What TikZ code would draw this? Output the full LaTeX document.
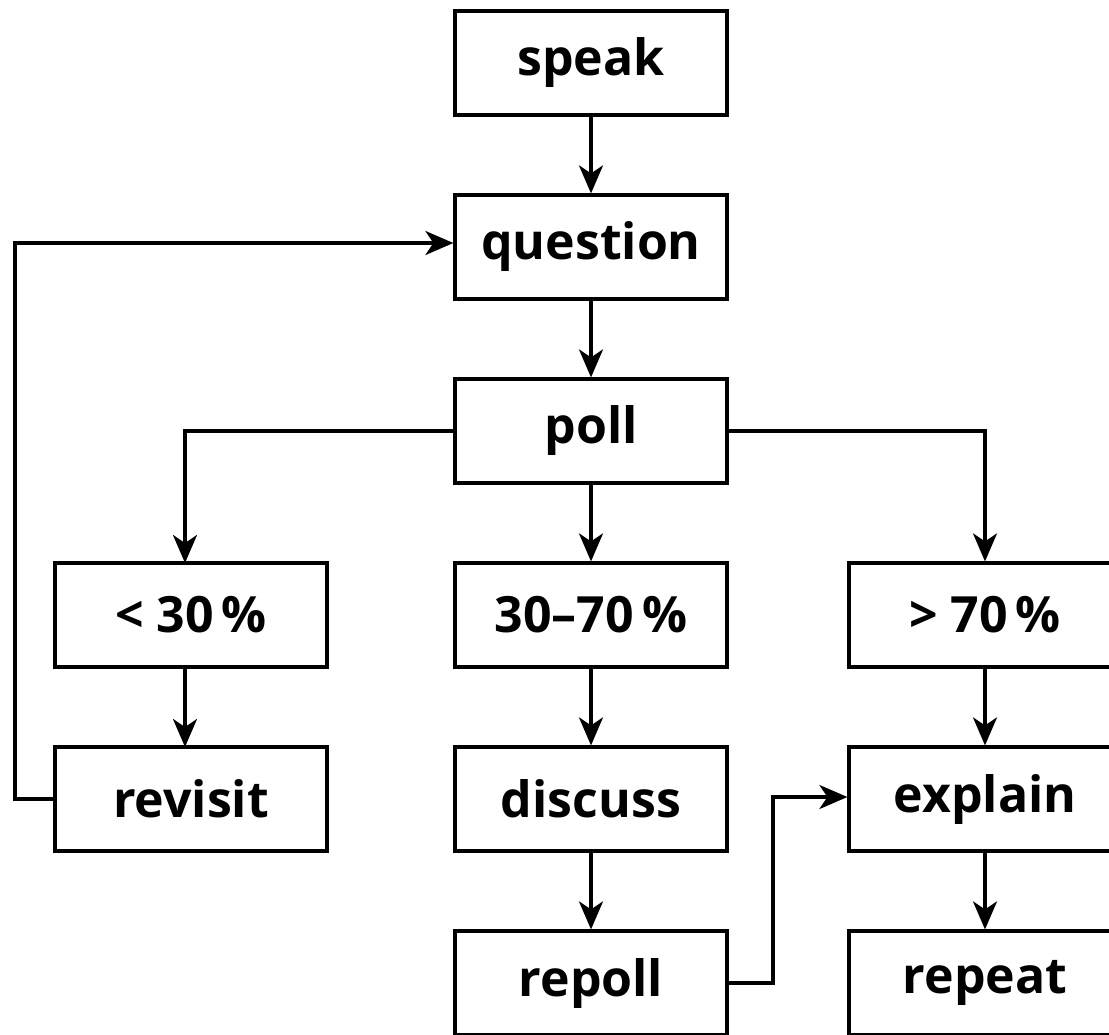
\documentclass[tikz,border=0pt]{standalone}
\usepackage{fontspec}
\setmainfont{Open Sans}
\usetikzlibrary{arrows.meta}
\begin{document}
\begin{tikzpicture}[x=0.5pt,y=-0.5pt,
  box/.style={draw,line width=1.6pt,minimum width=136pt,minimum height=52pt,inner sep=0pt,
    font=\fontsize{25}{29}\selectfont\bfseries},
  conn/.style={line width=1.6pt,-{Stealth[length=14pt,width=12pt,inset=4pt]}}]
\useasboundingbox (0,0) rectangle (1109,1034);
\node[box] (speak) at (591,63) {speak};
\node[box] (question) at (591,247) {question};
\node[box] (poll) at (591,431) {poll};
\node[box] (lo) at (191,615) {< 30\,\%};
\node[box] (mid) at (591,615) {30–70\,\%};
\node[box] (hi) at (985,615) {> 70\,\%};
\node[box] (revisit) at (191,799) {revisit};
\node[box] (discuss) at (591,799) {discuss};
\node[box] (explain) at (985,799) {explain};
\node[box] (repoll) at (591,983) {repoll};
\node[box] (repeat) at (985,983) {repeat};
\coordinate (lotop) at (185,563);
\coordinate (lobot) at (185,667);
\coordinate (revtop) at (185,747);
\coordinate (lpath) at (15,799);
\coordinate (mpath) at (773,983);
\draw[conn] (speak) -- (question);
\draw[conn] (question) -- (poll);
\draw[conn] (poll) -- (mid);
\draw[conn] (poll.west) -| (lotop);
\draw[conn] (poll.east) -| (hi.north);
\draw[conn] (lobot) -- (revtop);
\draw[conn] (mid) -- (discuss);
\draw[conn] (discuss) -- (repoll);
\draw[conn] (hi) -- (explain);
\draw[conn] (explain) -- (repeat);
\draw[conn] (revisit.west) -- (lpath) |- ([yshift=2]question.west);
\draw[conn] (repoll.east) -- (mpath) |- ([yshift=1]explain.west);
\end{tikzpicture}
\end{document}
